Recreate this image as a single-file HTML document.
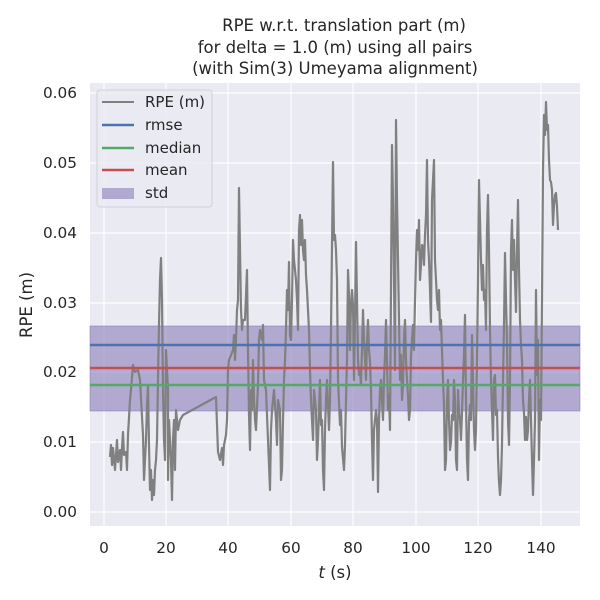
<!DOCTYPE html>
<html><head><style>body{margin:0;background:#fff}svg{display:block;font-family:"DejaVu Sans","Liberation Sans",sans-serif}</style></head><body>
<svg width="600" height="600" viewBox="0 0 600 600">
<rect x="90" y="83" width="490" height="443" fill="#eaeaf2"/>
<g stroke="#fff" stroke-width="1.2">
<line x1="104" y1="83" x2="104" y2="526"/><line x1="166" y1="83" x2="166" y2="526"/><line x1="228" y1="83" x2="228" y2="526"/><line x1="291" y1="83" x2="291" y2="526"/><line x1="353" y1="83" x2="353" y2="526"/><line x1="416" y1="83" x2="416" y2="526"/><line x1="478" y1="83" x2="478" y2="526"/><line x1="541" y1="83" x2="541" y2="526"/>
<line x1="90" y1="512" x2="580" y2="512"/><line x1="90" y1="442" x2="580" y2="442"/><line x1="90" y1="372" x2="580" y2="372"/><line x1="90" y1="303" x2="580" y2="303"/><line x1="90" y1="233" x2="580" y2="233"/><line x1="90" y1="163" x2="580" y2="163"/><line x1="90" y1="93" x2="580" y2="93"/>
</g>
<rect x="90" y="326" width="490" height="85" fill="#8172b3" fill-opacity="0.55" stroke="#8172b3" stroke-opacity="0.5"/>
<polyline fill="none" stroke="#808080" stroke-width="2.2" stroke-linejoin="round" points="110,457 111,445 112,465 113,448 115,470 117,440 118,462 120,450 121,470 122,448 123,432 124,455 126,452 127,470 128,435 130,400 131,390 133,365 135,372 138,370 140,380 143,435 144,480 146,440 147,405 148,385 149,445 150,490 151,470 152,500 153,480 154,495 155,470 156,460 157,440 158,380 158.5,350 159,325 160,280 161,258 162,300 163,390 164,440 165,460 166,350 168,390 168,480 169,420 171,460 172,500 173,440 174,420 175,470 176,410 178,430 180,420 183,415 216,397 218,452 220,460 222,448 223,465 224,445 226,435 227,420 228,370 229,360 231,355 233,350 234,335 235,360 236,340 237,310 238,300 239,188 240,250 241,310 242,330 243,320 245,320 247,270 248,350 249,415 250,450 251,390 252,410 253,360 254,400 255,420 256,430 258,385 259,340 260,330 262,340 263,325 264,380 266,390 268,440 270,490 271,430 272,410 274,390 276,420 277,445 278,400 280,410 281,480 282,470 283,420 284,380 285,360 286,330 287,290 288,310 289,262 290,335 291,340 292,300 293,240 294,260 296,280 297,300 298,330 299,230 300,215 301,245 302,220 303,250 304,260 305,240 306,275 307,290 309,330 310,370 311,400 312,420 313,440 314,390 316,410 317,460 318,440 319,410 320,380 321,425 322,420 323,470 324,490 325,430 326,400 327,380 329,430 330,400 331,330 332,245 333,162 334,240 335,235 336,250 337,280 338,380 340,425 341,410 342,447 344,470 345,445 346,400 347,360 348,270 349,295 350,350 351,305 352,290 353,305 354,380 355,320 356,242 357,300 358,360 359,375 360,370 361,385 362,350 363,310 364,340 365,360 366,380 367,342 368,320 369,350 370,362 371,390 372,440 373,480 374,430 376,410 377,420 378,492 379,420 380,390 381,380 382,400 383,420 384,380 385,355 386,320 387,360 388,410 389,395 390,430 392,145 393,200 394,280 395,370 396,120 397,200 398,260 399,320 400,380 401,355 402,400 403,385 404,340 405,320 406,360 407,380 408,395 409,420 410,410 411,355 412,340 413,325 414,350 415,300 416,260 417,230 418,250 419,220 420,280 421,265 422,245 423,246 424,265 425,235 426,215 427,160 428,240 429,260 430,290 431,322 432,200 434,160 435,260 436,280 437,300 438,310 439,290 440,330 441,320 442,350 443,380 444,405 445,470 446,460 447,400 448,380 449,420 450,450 451,442 452,415 453,420 454,380 455,400 456,460 457,470 458,390 459,410 460,420 461,440 462,412 463,380 464,355 465,315 466,402 467,460 468,480 469,420 470,405 471,420 472,335 473,380 474,430 475,450 476,430 477,360 478,280 479,180 480,220 481,260 482,290 483,265 484,300 485,290 486,330 487,230 488,195 489,250 490,330 491,380 492,410 493,440 494,380 495,375 496,415 497,410 498,457 499,482 500,495 501,480 502,445 503,380 504,325 505,253 506,300 507,340 508,420 509,445 510,380 511,250 512,220 513,270 514,240 515,280 516,312 517,250 518,200 519,270 520,320 521,345 522,360 523,400 524,413 525,440 526,417 527,440 528,430 529,400 530,380 531,420 532,460 533,495 534,460 535,420 536,290 537,375 538,340 539,460 540,400 541,420 542,300 543,170 544,115 545,135 546,102 547,130 548,125 549,160 550,180 551,182 552,190 553,225 554,205 555,195 556,193 557,207 558,230"/>
<line x1="90" y1="345" x2="580" y2="345" stroke="#4c72b0" stroke-width="2.5"/>
<line x1="90" y1="368" x2="580" y2="368" stroke="#c44e52" stroke-width="2.5"/>
<line x1="90" y1="385" x2="580" y2="385" stroke="#55a868" stroke-width="2.5"/>
<rect x="97" y="90" width="115" height="117" rx="3" fill="#eaeaf2" fill-opacity="0.8" stroke="#d0d0d8"/>
<line x1="102" y1="102" x2="134" y2="102" stroke="#808080" stroke-width="2"/>
<line x1="102" y1="125" x2="134" y2="125" stroke="#4c72b0" stroke-width="2.5"/>
<line x1="102" y1="148" x2="134" y2="148" stroke="#55a868" stroke-width="2.5"/>
<line x1="102" y1="170" x2="134" y2="170" stroke="#c44e52" stroke-width="2.5"/>
<rect x="102" y="188" width="32" height="11" fill="#8172b3" fill-opacity="0.55"/>
<g font-size="15" fill="#262626">
<text x="145" y="107">RPE (m)</text><text x="145" y="130">rmse</text><text x="145" y="153">median</text><text x="145" y="175">mean</text><text x="145" y="198">std</text>
</g>
<g font-size="15.3" fill="#262626" text-anchor="end">
<text x="77" y="517">0.00</text><text x="77" y="447">0.01</text><text x="77" y="377">0.02</text><text x="77" y="308">0.03</text><text x="77" y="238">0.04</text><text x="77" y="168">0.05</text><text x="77" y="98">0.06</text>
</g>
<g font-size="15.3" fill="#262626" text-anchor="middle">
<text x="104" y="553">0</text><text x="166" y="553">20</text><text x="228" y="553">40</text><text x="291" y="553">60</text><text x="353" y="553">80</text><text x="416" y="553">100</text><text x="478" y="553">120</text><text x="541" y="553">140</text>
<text x="335" y="578" font-size="16.5"><tspan font-style="italic">t</tspan> (s)</text>
<text x="344" y="31" font-size="16.5">RPE w.r.t. translation part (m)</text>
<text x="335" y="53" font-size="16.5">for delta = 1.0 (m) using all pairs</text>
<text x="335" y="74" font-size="16.5">(with Sim(3) Umeyama alignment)</text>
<text transform="translate(32,305) rotate(-90)" font-size="16.5">RPE (m)</text>
</g>
</svg>
</body></html>
